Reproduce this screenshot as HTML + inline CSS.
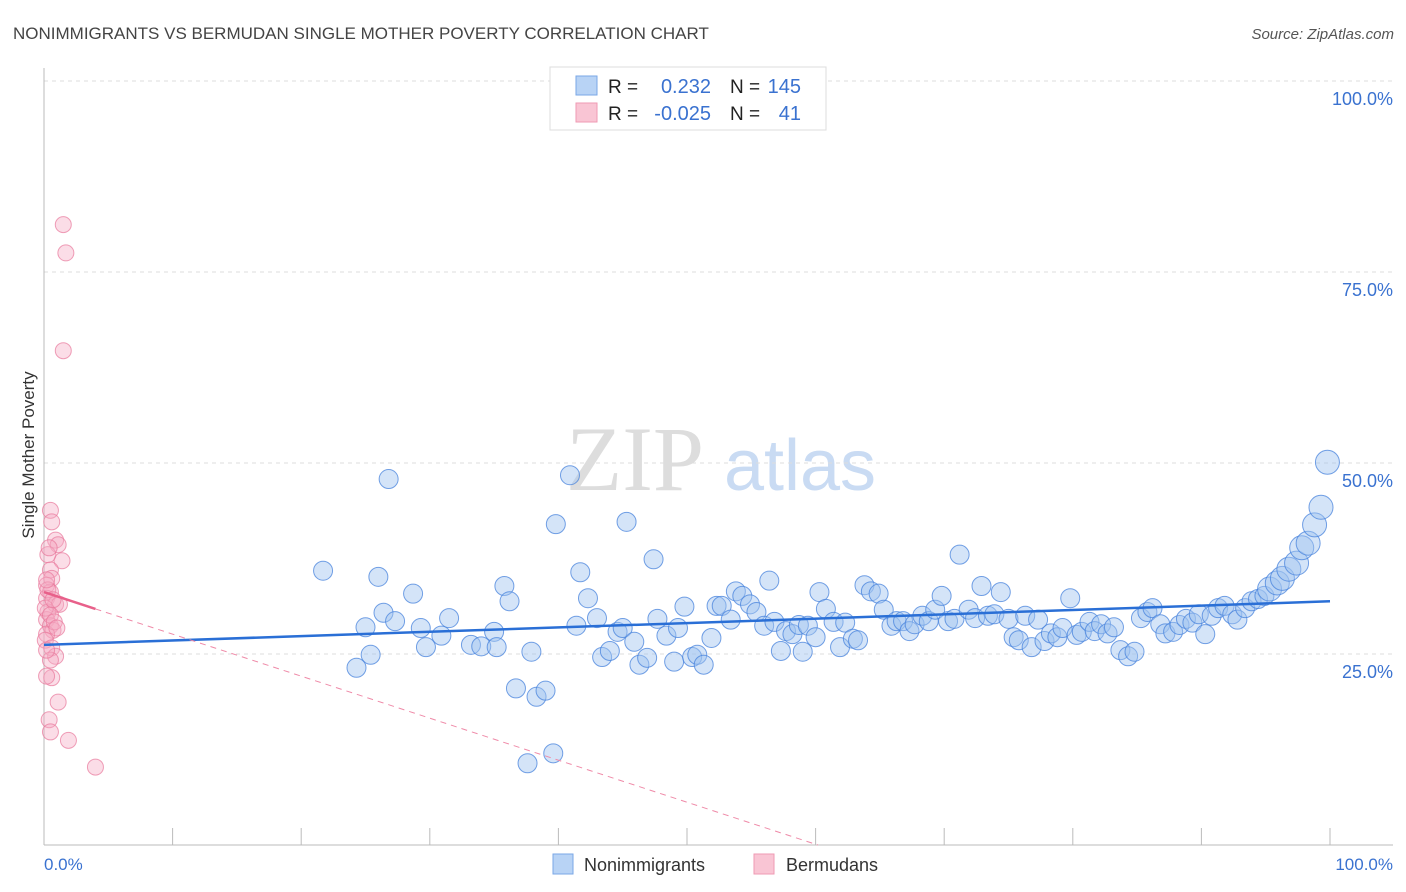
<!DOCTYPE html>
<html><head><meta charset="utf-8"><style>
body{margin:0;background:#fff;font-family:"Liberation Sans",sans-serif;}
#wrap{position:relative;width:1406px;height:892px;overflow:hidden;}
</style></head><body>
<div id="wrap">
<svg id="chart" width="1406" height="892" xmlns="http://www.w3.org/2000/svg">
<text x="13" y="39" font-size="17" fill="#444">NONIMMIGRANTS VS BERMUDAN SINGLE MOTHER POVERTY CORRELATION CHART</text>
<text x="1394" y="39" font-size="15" fill="#555" text-anchor="end" font-style="italic">Source: ZipAtlas.com</text>
<g>
<text x="635" y="490" font-size="92" fill="#ddd" text-anchor="middle" font-family="Liberation Serif, serif">ZIP</text>
<text x="800" y="490" font-size="72" fill="#c9dbf3" text-anchor="middle">atlas</text>
</g>
<g id="grid"></g>
<g id="axes"></g>
<g id="pinkpts"></g>
<g id="bluepts"></g>
<g id="lines"></g>
<text transform="translate(34,455) rotate(-90)" font-size="17" fill="#333" text-anchor="middle">Single Mother Poverty</text>
<text x="44" y="870" font-size="17" fill="#3a72d0">0.0%</text>
<text x="1393" y="870" font-size="17" fill="#3a72d0" text-anchor="end">100.0%</text>
<g>
<rect x="550" y="67" width="276" height="63" fill="#fff" stroke="#ddd"/>
<rect x="576" y="76" width="21" height="19" fill="#b8d3f5" stroke="#7aa7e6"/>
<rect x="576" y="103" width="21" height="19" fill="#f9c5d4" stroke="#ef9ab3"/>
<text x="608" y="93" font-size="19" fill="#222">R = </text><text x="711" y="93" font-size="20" fill="#3a72d0" text-anchor="end">0.232</text>
<text x="730" y="93" font-size="19" fill="#222">N = </text><text x="801" y="93" font-size="20" fill="#3a72d0" text-anchor="end">145</text>
<text x="608" y="120" font-size="19" fill="#222">R = </text><text x="711" y="120" font-size="20" fill="#3a72d0" text-anchor="end">-0.025</text>
<text x="730" y="120" font-size="19" fill="#222">N = </text><text x="801" y="120" font-size="20" fill="#3a72d0" text-anchor="end">41</text>
</g>
<g>
<rect x="553" y="854" width="20" height="20" fill="#b8d3f5" stroke="#7aa7e6"/>
<text x="584" y="871" font-size="18" fill="#333">Nonimmigrants</text>
<rect x="754" y="854" width="20" height="20" fill="#f9c5d4" stroke="#ef9ab3"/>
<text x="786" y="871" font-size="18" fill="#333">Bermudans</text>
</g>
</svg>
</div>
<script>
const yTicks=[25,50,75,100];
const yTickLabels=["25.0%","50.0%","75.0%","100.0%"];
const xTicks=[0,10,20,30,40,50,60,70,80,90,100];
const blueX=[21.7,25.0,25.4,24.3,26.0,26.4,26.8,27.3,28.7,29.3,29.7,30.9,31.5,33.2,34.0,35.0,35.2,35.8,36.2,36.7,37.6,37.9,38.3,39.0,39.6,39.8,40.9,41.4,41.7,42.3,43.0,43.4,44.0,44.6,45.0,45.3,45.9,46.3,46.9,47.4,47.7,48.4,49.0,49.3,49.8,50.4,50.8,51.3,51.9,52.3,52.7,53.4,53.8,54.3,54.9,55.4,56.0,56.4,56.8,57.3,57.7,58.2,58.7,59.0,59.4,60.0,60.3,60.8,61.4,61.9,62.3,62.9,63.3,63.8,64.3,64.9,65.3,65.9,66.3,66.8,67.3,67.7,68.3,68.8,69.3,69.8,70.3,70.8,71.2,71.9,72.4,72.9,73.4,73.9,74.4,75.0,75.4,75.8,76.3,76.8,77.3,77.8,78.3,78.8,79.2,79.8,80.3,80.7,81.3,81.7,82.2,82.7,83.2,83.7,84.3,84.8,85.3,85.8,86.2,86.8,87.2,87.8,88.3,88.8,89.3,89.8,90.3,90.8,91.3,91.8,92.4,92.8,93.4,93.9,94.4,94.9,95.3,95.9,96.3,96.8,97.4,97.8,98.3,98.8,99.3,99.8];
const blueY=[35.9,28.5,24.9,23.2,35.1,30.4,47.9,29.3,32.9,28.4,25.9,27.4,29.7,26.2,26.0,27.9,25.9,33.9,31.9,20.5,10.7,25.3,19.4,20.2,12.0,42.0,48.4,28.7,35.7,32.3,29.7,24.6,25.4,27.9,28.4,42.3,26.6,23.6,24.5,37.4,29.6,27.4,24.0,28.4,31.2,24.6,24.9,23.6,27.1,31.3,31.3,29.5,33.2,32.6,31.5,30.5,28.7,34.6,29.2,25.4,28.0,27.6,28.8,25.3,28.7,27.2,33.1,30.9,29.2,25.9,29.1,27.0,26.8,34.0,33.2,32.9,30.8,28.7,29.3,29.3,28.0,28.9,30.0,29.3,30.8,32.6,29.3,29.6,38.0,30.8,29.7,33.9,30.0,30.2,33.1,29.6,27.2,26.8,30.0,25.9,29.5,26.7,27.7,27.2,28.4,32.3,27.5,27.9,29.2,28.0,28.9,27.7,28.5,25.5,24.7,25.3,29.7,30.5,31.0,28.9,27.7,27.9,28.8,29.6,29.1,30.2,27.6,30.0,31.0,31.3,30.2,29.5,31.0,31.9,32.2,32.6,33.5,34.3,34.9,36.1,36.9,38.9,39.5,41.9,44.2,50.1];
const pinkX=[1.5,1.7,1.5,0.5,0.6,0.9,1.1,1.4,0.3,0.5,0.6,0.2,0.5,0.2,0.9,1.2,0.3,0.2,0.5,0.7,0.2,0.1,0.6,0.9,0.5,0.6,0.2,1.1,0.4,0.5,1.9,4.0,0.1,0.2,0.3,0.5,0.8,0.4,0.7,0.2,1.0];
const pinkY=[81.2,77.5,64.7,43.8,42.3,39.9,39.3,37.2,38.0,36.0,34.9,34.0,33.1,32.3,31.5,31.5,30.5,29.5,28.7,28.1,27.6,26.8,25.8,24.7,24.2,21.9,22.1,18.7,16.4,14.8,13.7,10.2,31.0,25.5,33.4,30.1,29.2,38.9,32.1,34.7,28.4];
const blueTrend=[26.2,31.9];
const pinkTrend=[33.1,-0.55];
const NS="http://www.w3.org/2000/svg";
const xs=v=>44+v*12.86;
const ys=v=>845-v*7.64;
function mk(tag,attrs,parent){const e=document.createElementNS(NS,tag);for(const k in attrs)e.setAttribute(k,attrs[k]);document.getElementById(parent).appendChild(e);return e;}
yTicks.forEach((t,i)=>{
 const l=mk('line',{x1:44,x2:1393,y1:ys(t),y2:ys(t),stroke:'#ddd','stroke-dasharray':'4,4'},'grid');
 
 
 const tx=mk('text',{x:1393,y:ys(t)+24,'font-size':18,fill:'#3a72d0','text-anchor':'end'},'grid');
 tx.textContent=yTickLabels[i];
 
 
});
let a=mk('line',{x1:44,x2:44,y1:68,y2:845,stroke:'#bbb'},'axes');


a=mk('line',{x1:44,x2:1393,y1:845,y2:845,stroke:'#bbb'},'axes');


xTicks.forEach(t=>{
 const l=mk('line',{x1:xs(t),x2:xs(t),y1:828,y2:845,stroke:'#bbb'},'axes');
 
 
});
pinkX.forEach((x,i)=>{
 const c=mk('circle',{cx:xs(x),cy:ys(pinkY[i]),r:8,fill:'rgba(246,170,195,0.4)',stroke:'rgba(232,120,155,0.7)','stroke-width':1},'pinkpts');
 
 
});
blueX.forEach((x,i)=>{
 const r=x>95?12:(x>99.5?11:9.5);
 const c=mk('circle',{cx:xs(x),cy:ys(blueY[i]),r:r,fill:'rgba(160,195,240,0.45)',stroke:'rgba(70,130,220,0.75)','stroke-width':1},'bluepts');
 
 
});
let l=mk('line',{x1:xs(0),x2:xs(100),y1:ys(blueTrend[0]),y2:ys(blueTrend[1]),stroke:'#2a6fd6','stroke-width':2.5},'lines');


const pe=-pinkTrend[0]/pinkTrend[1];
l=mk('line',{x1:xs(4),x2:xs(pe),y1:ys(pinkTrend[0]+pinkTrend[1]*4),y2:ys(0),stroke:'#ef8aa8','stroke-width':1,'stroke-dasharray':'6,5'},'lines');


l=mk('line',{x1:xs(0),x2:xs(4),y1:ys(pinkTrend[0]),y2:ys(pinkTrend[0]+pinkTrend[1]*4),stroke:'#e8608a','stroke-width':2.5},'lines');


</script>
</body></html>
